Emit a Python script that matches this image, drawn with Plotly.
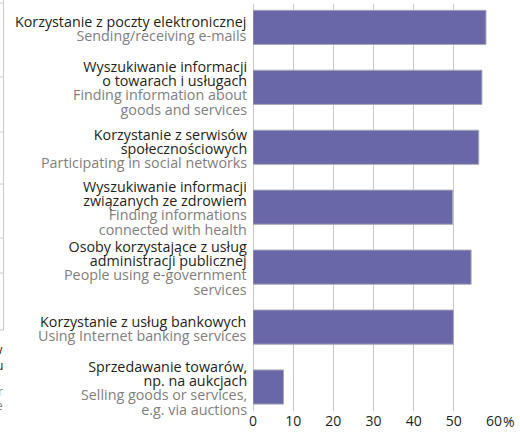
import plotly.graph_objects as go

# --- data ---
labels_pl = [
    "Korzystanie z poczty elektronicznej",
    "Wyszukiwanie informacji<br>o towarach i usługach",
    "Korzystanie z serwisów<br>społecznościowych",
    "Wyszukiwanie informacji<br>związanych ze zdrowiem",
    "Osoby korzystające z usług<br>administracji publicznej",
    "Korzystanie z usług bankowych",
    "Sprzedawanie towarów,<br>np. na aukcjach",
]
labels_en = [
    "Sending/receiving e-mails",
    "Finding information about<br>goods and services",
    "Participating in social networks",
    "Finding informations<br>connected with health",
    "People using e-government<br>services",
    "Using Internet banking services",
    "Selling goods or services,<br>e.g. via auctions",
]
values = [58.0, 57.0, 56.2, 49.7, 54.3, 49.9, 7.6]
x_ticks = [0, 10, 20, 30, 40, 50, 60]
x_ticktext = ["0", "10", "20", "30", "40", "50", "60"]

PL_COLOR = "#231f20"
EN_COLOR = "#808080"
FONT = "Open Sans"
LABEL_SIZE = 14.3
LINE_H = 14.2

idx = list(range(len(values)))

fig = go.Figure()
fig.add_trace(go.Bar(
    x=values,
    y=idx,
    orientation="h",
    width=0.57,
    marker=dict(color="#6a67a8", line=dict(color="#a8a8b4", width=1)),
    hoverinfo="x",
))

fig.update_layout(
    width=520,
    height=432,
    margin=dict(l=253, r=26, t=4, b=21, autoexpand=False),
    paper_bgcolor="white",
    plot_bgcolor="white",
    showlegend=False,
    font=dict(family=FONT, color=PL_COLOR),
    xaxis=dict(
        range=[0, 60],
        automargin=False,
        tickvals=x_ticks,
        ticktext=x_ticktext,
        showgrid=True,
        gridcolor="#c8c8c8",
        gridwidth=1,
        zeroline=True,
        zerolinecolor="#c8c8c8",
        zerolinewidth=1,
        showline=False,
        ticks="",
        tickfont=dict(size=14, color=PL_COLOR, family=FONT),
        fixedrange=True,
    ),
    yaxis=dict(
        range=[6.4, -0.39],
        automargin=False,
        tickvals=idx,
        showticklabels=False,
        showgrid=False,
        zeroline=False,
        showline=False,
        ticks="",
        fixedrange=True,
    ),
)

# category labels: Polish (dark) above English (grey), right-aligned at the axis.
# Base font sets the (tight) line spacing, inner spans set the glyph size.
for i, (pl, en) in enumerate(zip(labels_pl, labels_en)):
    parts = [
        f'<span style="font-size:{LABEL_SIZE}px;color:{PL_COLOR}">{t}</span>' for t in pl.split("<br>")
    ] + [
        f'<span style="font-size:{LABEL_SIZE}px;color:{EN_COLOR}">{t}</span>' for t in en.split("<br>")
    ]
    fig.add_annotation(
        x=0, xref="x", y=i, yref="y",
        xanchor="right", yanchor="middle", align="right",
        xshift=-4, yshift=-1,
        text="<br>".join(parts), showarrow=False,
        font=dict(size=LINE_H / 1.3, color=PL_COLOR, family=FONT),
    )

# percent sign after last tick label
fig.add_annotation(
    x=60, xref="x", y=0, yref="paper", yanchor="middle", xanchor="left",
    text="%", showarrow=False, xshift=7, yshift=-10,
    font=dict(size=14, color=PL_COLOR, family=FONT),
)

# remnants of a neighbouring chart at the left edge (decoration)
def px_to_paper(px):
    return (px - 253.0) / (494.0 - 253.0)

def py_to_paper(py):
    return 1 - (py - 4.0) / (411.0 - 4.0)

edge_col = "#c8c8c8"
fig.add_shape(type="line", xref="paper", yref="paper",
              x0=px_to_paper(3.5), x1=px_to_paper(3.5),
              y0=py_to_paper(0), y1=py_to_paper(330),
              line=dict(color=edge_col, width=1))
for py in [3, 77, 132, 184, 238, 273, 330]:
    fig.add_shape(type="line", xref="paper", yref="paper",
                  x0=px_to_paper(-2), x1=px_to_paper(3.5),
                  y0=py_to_paper(py), y1=py_to_paper(py),
                  line=dict(color=edge_col, width=1))
for ch, py, col in [("w", 349, PL_COLOR), ("u", 365, PL_COLOR), ("r", 391, EN_COLOR), ("e", 405, EN_COLOR)]:
    fig.add_annotation(xref="paper", yref="paper", x=px_to_paper(5), y=py_to_paper(py),
                       xanchor="right", yanchor="middle", text=ch, showarrow=False,
                       font=dict(size=12, color=col, family=FONT))

fig.write_html("out.html", config={"displayModeBar": False},
               post_script="document.body.style.margin='0';")
